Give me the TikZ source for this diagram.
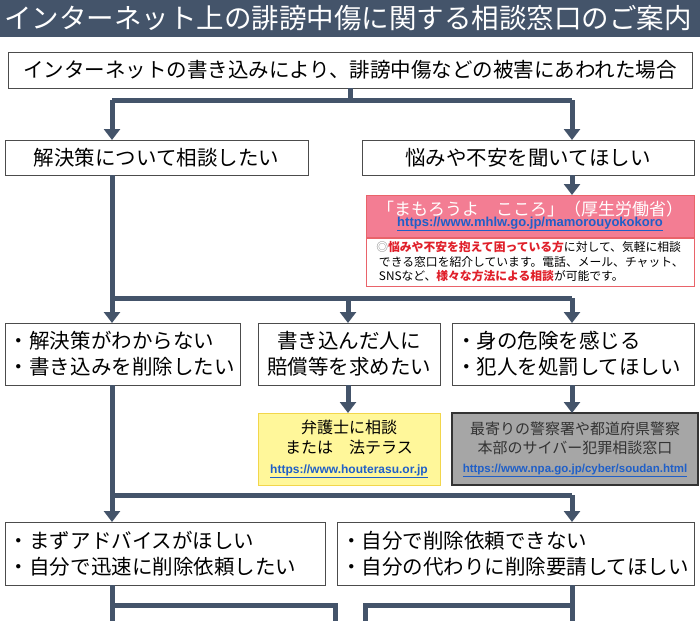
\documentclass[tikz,border=0pt]{standalone}
\usepackage{fontspec}
\setmainfont{Noto Sans CJK JP}
\newfontfamily\urlf{Liberation Sans}
\usetikzlibrary{arrows.meta}
\definecolor{navy}{HTML}{44546A}
\definecolor{pinkc}{HTML}{F37D93}
\definecolor{urlc}{HTML}{1F5FC8}
\definecolor{redc}{HTML}{E0202A}
\definecolor{yel}{HTML}{FFF79A}
\definecolor{yelb}{HTML}{F2D64B}
\definecolor{grayc}{HTML}{A6A6A6}
\tikzset{
 box/.style={draw=black!70, line width=0.8pt, fill=white, inner sep=0pt, align=left, font=\fontsize{20.5}{26}\selectfont},
 con/.style={draw=navy, line width=5pt},
 arr/.style={con, -{Triangle[width=16pt,length=11pt]}},
}
\newcommand{\ul}[1]{\underline{#1}}
\begin{document}
\begin{tikzpicture}[x=1pt,y=-1pt]
\useasboundingbox (0,0) rectangle (700,621);
\fill[navy] (0,0) rectangle (700,37);
\node[text=white, font=\fontsize{27.5}{30}\selectfont] (title) at (348,18) {インターネット上の誹謗中傷に関する相談窓口のご案内};
\node[box, minimum width=684, minimum height=36, align=center, font=\fontsize{20.5}{24}\selectfont] (b1) at (350,70) {インターネットの書き込みにより、誹謗中傷などの被害にあわれた場合};
\node[box, minimum width=303, minimum height=35, align=center] (b2a) at (156.5,157.5) {解決策について相談したい};
\node[box, minimum width=332, minimum height=35, align=center] (b2b) at (528,157.5) {悩みや不安を聞いてほしい};
% pink
\node[draw=redc!70, line width=1pt, fill=pinkc, minimum width=328, minimum height=42, inner sep=0pt, align=center, text=white] (pink) at (530,216)
 {{\fontsize{17}{20}\selectfont 「まもろうよ　こころ」（厚生労働省）}\\[-1pt]{\urlf\bfseries\fontsize{13}{15}\selectfont\color{urlc}\ul{https://www.mhlw.go.jp/mamorouyokokoro}}};
\node[draw=redc!70, line width=1pt, fill=white, minimum width=328, minimum height=48, inner sep=0pt, anchor=north, align=left, font=\fontsize{11.8}{14.5}\selectfont] (pinkw) at (pink.south)
 {{\color{gray}◎}{\color{redc}\bfseries 悩みや不安を抱えて困っている方}に対して、気軽に相談\\\ できる窓口を紹介しています。電話、メール、チャット、\\\ SNSなど、{\color{redc}\bfseries 様々な方法による相談}が可能です。};
% row3
\node[box, minimum width=235, minimum height=62, text width=227] (b3a) at (122.5,354) {・解決策がわからない\\・書き込みを削除したい};
\node[box, minimum width=182, minimum height=62, align=center] (b3b) at (349,354) {書き込んだ人に\\賠償等を求めたい};
\node[box, minimum width=242, minimum height=62, text width=234] (b3c) at (573,354) {・身の危険を感じる\\・犯人を処罰してほしい};
\node[draw=yelb, line width=1pt, fill=yel, minimum width=182, minimum height=72, inner sep=0pt, align=center, font=\fontsize{16}{20}\selectfont] (yel) at (349,449)
 {弁護士に相談\\または　法テラス\\{\urlf\bfseries\fontsize{12}{14}\selectfont\color{urlc}\ul{https://www.houterasu.or.jp}}};
\node[draw=black!80, line width=1.2pt, fill=grayc, minimum width=246, minimum height=72, inner sep=0pt, align=center, font=\fontsize{15}{19}\selectfont, text=black!80] (gry) at (575,449)
 {最寄りの警察署や都道府県警察\\本部のサイバー犯罪相談窓口\\{\urlf\bfseries\fontsize{11.5}{14}\selectfont\color{urlc}\ul{https://www.npa.go.jp/cyber/soudan.html}}};
\node[box, minimum width=320, minimum height=63, text width=312] (b4a) at (165,553.5) {・まずアドバイスがほしい\\・自分で迅速に削除依頼したい};
\node[box, minimum width=357, minimum height=63, text width=349] (b4b) at (515.5,553.5) {・自分で削除依頼できない\\・自分の代わりに削除要請してほしい};
% connectors
\coordinate (j1) at (350,100); \coordinate (j1l) at (112,100); \coordinate (j1r) at (572,100);
\draw[con] (b1.south) -- (j1);
\draw[con] (j1l) -- (j1r);
\draw[arr] (j1l) -- (112,140);
\draw[arr] (j1r) -- (572,140);
\draw[arr] (b2b.south -| 572,0) -- (572,195);
\coordinate (j2) at (112,298);
\draw[con] (112,175) -- (j2) -- (572,298);
\draw[arr] (112,296) -- (112,323);
\draw[arr] (348,298) -- (348,323);
\draw[arr] (572,298) -- (572,323);
\draw[arr] (348,385) -- (348,413);
\draw[arr] (572,385) -- (572,413);
\coordinate (j3) at (112,495);
\draw[con] (112,385) -- (j3) -- (572,495);
\draw[arr] (112,493) -- (112,522);
\draw[arr] (572,495) -- (572,522);
\draw[con] (112,585) -- (112,621);
\draw[con] (112,605) -- (335,605) -- (335,621);
\draw[con] (572,585) -- (572,621);
\draw[con] (572,605) -- (365,605) -- (365,621);
\end{tikzpicture}
\end{document}
